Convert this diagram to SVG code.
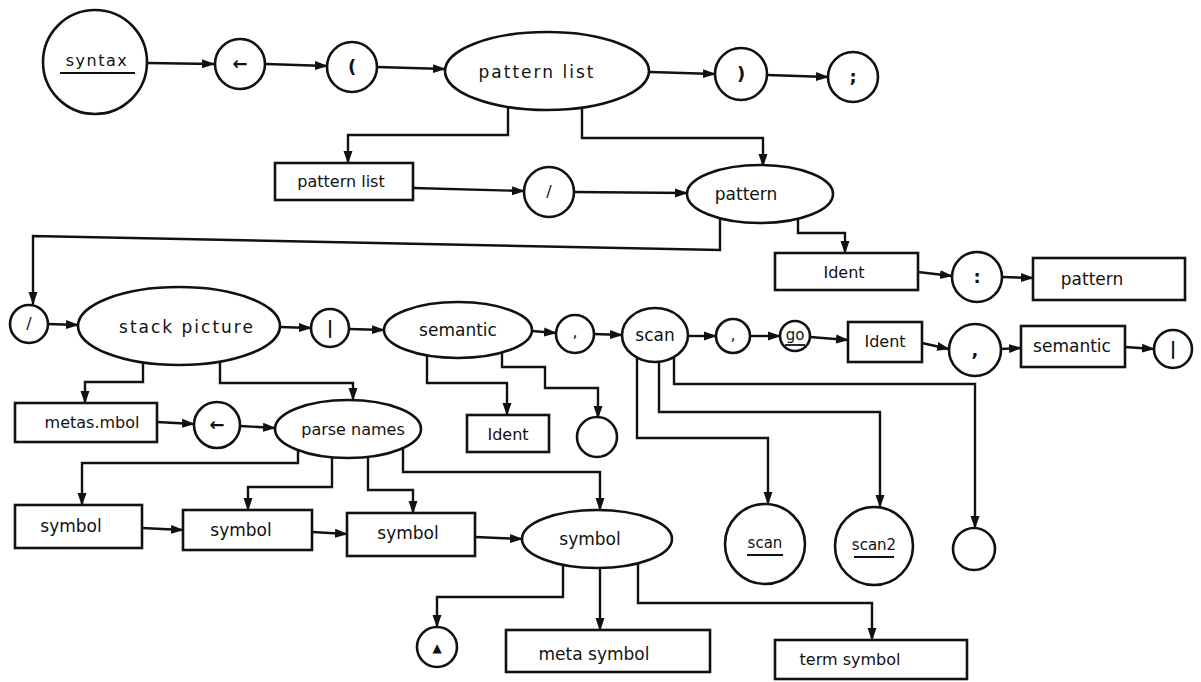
<svg xmlns="http://www.w3.org/2000/svg" width="1201" height="682" viewBox="0 0 1201 682">
<defs>
<marker id="ah" markerUnits="userSpaceOnUse" markerWidth="14" markerHeight="10" refX="12" refY="5" orient="auto">
<path d="M0,0.5 L13,5 L0,9.5 Z" fill="#111"/>
</marker>
<style>
.n{fill:#fff;stroke:#111;stroke-width:2.6}
.c{fill:none;stroke:#111;stroke-width:2.4;marker-end:url(#ah)}
.u{stroke:#111;stroke-width:1.8}
text{font-family:"DejaVu Sans","Liberation Sans",sans-serif;font-size:16px;fill:#111;text-anchor:middle}
.big{font-size:18px;font-weight:bold}
.w{letter-spacing:1.5px}
</style>
</defs>
<rect width="1201" height="682" fill="#fff"/>

<g id="connectors">
<path class="c" d="M147,63 L214,64"/>
<path class="c" d="M266,64 L327,66"/>
<path class="c" d="M377,67 L445,69"/>
<path class="c" d="M650,72 L715,74"/>
<path class="c" d="M767,75 L828,77"/>
<path class="c" d="M508,107 V135 H348 V163"/>
<path class="c" d="M582,107 V138 H763 V166"/>
<path class="c" d="M413,188 L524,191"/>
<path class="c" d="M573,192 L687,193"/>
<path class="c" d="M720,217 V250 L33,236 V304"/>
<path class="c" d="M798,218 V233 H845 V253"/>
<path class="c" d="M918,272 L952,276"/>
<path class="c" d="M1002,277 L1033,278"/>
<path class="c" d="M48,324 L78,325"/>
<path class="c" d="M280,327 L311,328"/>
<path class="c" d="M349,329 L384,330"/>
<path class="c" d="M532,331 L556,333"/>
<path class="c" d="M594,334 L622,335"/>
<path class="c" d="M688,336 L716,336"/>
<path class="c" d="M750,336 L780,336"/>
<path class="c" d="M810,337 L848,340"/>
<path class="c" d="M922,343 L949,349"/>
<path class="c" d="M1001,349 L1021,348"/>
<path class="c" d="M1125,347 L1154,349"/>
<path class="c" d="M143,362 V382 H85 V403"/>
<path class="c" d="M220,361 V383 H353 V400"/>
<path class="c" d="M157,422 L194,424"/>
<path class="c" d="M240,426 L275,428"/>
<path class="c" d="M298,450 V463 H82 V505"/>
<path class="c" d="M332,457 V487 H248 V510"/>
<path class="c" d="M368,457 V490 H413 V513"/>
<path class="c" d="M403,448 V472 H600 V510"/>
<path class="c" d="M142,528 L183,530"/>
<path class="c" d="M312,532 L347,534"/>
<path class="c" d="M475,537 L522,539"/>
<path class="c" d="M563,565 V597 H437 V627"/>
<path class="c" d="M600,568 V630"/>
<path class="c" d="M638,563 V603 H872 V640"/>
<path class="c" d="M427,355 V383 H507 V415"/>
<path class="c" d="M502,352 V367 H545 V388 H598 V418"/>
<path class="c" d="M637,357 V438 H768 V504"/>
<path class="c" d="M659,362 V412 H880 V507"/>
<path class="c" d="M674,357 V384 H975 V528"/>
</g>

<g id="n-syntax"><circle class="n" cx="95" cy="62" r="52"/><text class="w" x="97" y="66">syntax</text><line class="u" x1="60" y1="73" x2="135" y2="73"/></g>
<g id="n-assign1"><circle class="n" cx="240" cy="64" r="25"/><text class="big" x="240" y="70">←</text></g>
<g id="n-lparen"><circle class="n" cx="352" cy="67" r="25"/><text class="big" x="352" y="73">(</text></g>
<g id="n-patternlist"><ellipse class="n" cx="547" cy="71" rx="102" ry="39"/><text x="537" y="78" style="font-size:17px;letter-spacing:2px">pattern  list</text></g>
<g id="n-rparen"><circle class="n" cx="741" cy="74" r="26"/><text class="big" x="741" y="80">)</text></g>
<g id="n-semi"><circle class="n" cx="853" cy="77" r="25"/><text class="big" x="853" y="83">;</text></g>

<g id="n-patternlist-box"><rect class="n" x="275" y="163" width="138" height="37"/><text x="341" y="187">pattern  list</text></g>
<g id="n-slash1"><circle class="n" cx="549" cy="192" r="25"/><text x="549" y="197">/</text></g>
<g id="n-pattern"><ellipse class="n" cx="760" cy="194" rx="73" ry="29"/><text x="746" y="200" style="font-size:17px">pattern</text></g>
<g id="n-ident1"><rect class="n" x="775" y="253" width="143" height="37"/><text x="844" y="278">Ident</text></g>
<g id="n-colon"><circle class="n" cx="977" cy="277" r="25"/><text class="big" x="977" y="283">:</text></g>
<g id="n-pattern-box"><rect class="n" x="1033" y="258" width="152" height="42"/><text x="1092" y="285" style="font-size:17px">pattern</text></g>

<g id="n-slash2"><circle class="n" cx="29" cy="324" r="19"/><text x="29" y="329">/</text></g>
<g id="n-stack"><ellipse class="n" cx="179" cy="326" rx="101" ry="39"/><text x="187" y="333" style="font-size:17px;letter-spacing:2px">stack  picture</text></g>
<g id="n-bar1"><circle class="n" cx="330" cy="328" r="19"/><text class="big" x="330" y="334">|</text></g>
<g id="n-semantic"><ellipse class="n" cx="458" cy="330" rx="74" ry="28"/><text x="458" y="336" style="font-size:17px">semantic</text></g>
<g id="n-comma1"><circle class="n" cx="575" cy="334" r="19"/><text x="575" y="337">,</text></g>
<g id="n-scan"><ellipse class="n" cx="655" cy="335" rx="33" ry="27"/><text x="655" y="341" style="font-size:17px">scan</text></g>
<g id="n-comma2"><circle class="n" cx="733" cy="336" r="17"/><text x="733" y="340">,</text></g>
<g id="n-go"><circle class="n" cx="795" cy="336" r="15"/><text x="795" y="340" style="font-size:15px">go</text><line class="u" x1="785" y1="345" x2="805" y2="345"/></g>
<g id="n-ident2"><rect class="n" x="848" y="322" width="74" height="40"/><text x="885" y="347">Ident</text></g>
<g id="n-comma3"><circle class="n" cx="975" cy="350" r="26"/><text class="big" x="975" y="356">,</text></g>
<g id="n-semantic-box"><rect class="n" x="1021" y="326" width="104" height="41"/><text x="1072" y="352" style="font-size:17px">semantic</text></g>
<g id="n-bar2"><circle class="n" cx="1173" cy="349" r="19"/><text class="big" x="1173" y="355">|</text></g>

<g id="n-metasymbol"><rect class="n" x="15" y="403" width="142" height="39"/><text x="92" y="428">metas.mbol</text></g>
<g id="n-assign2"><circle class="n" cx="217" cy="425" r="23"/><text class="big" x="217" y="431">←</text></g>
<g id="n-parsenames"><ellipse class="n" cx="348" cy="429" rx="73" ry="29"/><text x="353" y="435">parse names</text></g>
<g id="n-ident3"><rect class="n" x="467" y="415" width="82" height="37"/><text x="508" y="440">Ident</text></g>
<g id="n-empty1"><circle class="n" cx="597" cy="437" r="20"/></g>

<g id="n-symbol1"><rect class="n" x="15" y="505" width="127" height="43"/><text x="71" y="532" style="font-size:17px">symbol</text></g>
<g id="n-symbol2"><rect class="n" x="183" y="510" width="129" height="40"/><text x="241" y="536" style="font-size:17px">symbol</text></g>
<g id="n-symbol3"><rect class="n" x="347" y="513" width="128" height="43"/><text x="408" y="539" style="font-size:17px">symbol</text></g>
<g id="n-symbol4"><ellipse class="n" cx="597" cy="539" rx="75" ry="29"/><text x="590" y="545" style="font-size:17px">symbol</text></g>
<g id="n-scan-c"><circle class="n" cx="765" cy="544" r="40"/><text x="765" y="548" style="font-size:15px">scan</text><line class="u" x1="747" y1="555" x2="783" y2="555"/></g>
<g id="n-scan2-c"><circle class="n" cx="874" cy="546" r="39"/><text x="874" y="550" style="font-size:15px">scan2</text><line class="u" x1="854" y1="557" x2="894" y2="557"/></g>
<g id="n-empty2"><circle class="n" cx="974" cy="549" r="21"/></g>

<g id="n-delta"><circle class="n" cx="437" cy="647" r="20"/><text x="437" y="652" style="font-size:12px">▲</text></g>
<g id="n-metasymbol2"><rect class="n" x="506" y="630" width="204" height="42"/><text x="594" y="660" style="font-size:17px">meta  symbol</text></g>
<g id="n-termsymbol"><rect class="n" x="775" y="640" width="192" height="39"/><text x="850" y="665">term symbol</text></g>
</svg>
